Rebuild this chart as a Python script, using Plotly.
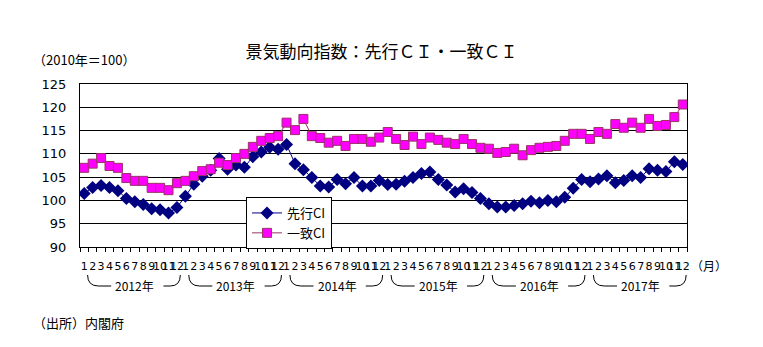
import plotly.graph_objects as go

# ---------------- data ----------------
years = ["2012年", "2013年", "2014年", "2015年", "2016年", "2017年"]
month_labels = ["1", "2", "3", "4", "5", "6", "7", "8", "9", "10", "11", "12"]

leading_ci = [
    # 2012
    101.5, 102.8, 103.2, 102.8, 102.1, 100.4, 99.7, 99.1, 98.2, 98.0, 97.3, 98.5,
    # 2013
    100.9, 103.5, 105.2, 106.5, 109.0, 106.7, 107.6, 107.1, 109.4, 110.4, 111.4, 111.0,
    # 2014
    112.0, 107.9, 106.6, 104.9, 103.1, 102.9, 104.5, 103.6, 104.9, 103.1, 103.1, 104.3,
    # 2015
    103.4, 103.5, 104.1, 104.9, 105.8, 106.1, 104.5, 103.3, 101.8, 102.5, 101.7, 100.4,
    # 2016
    99.3, 98.6, 98.6, 98.9, 99.3, 99.8, 99.5, 100.0, 99.7, 100.7, 102.6, 104.5,
    # 2017
    104.0, 104.6, 105.3, 103.8, 104.3, 105.3, 104.9, 106.8, 106.5, 106.2, 108.3, 107.7,
]

coincident_ci = [
    # 2012
    107.0, 107.9, 109.1, 107.4, 107.0, 104.8, 104.2, 104.2, 102.7, 102.7, 102.2, 103.7,
    # 2013
    104.2, 105.2, 106.3, 106.7, 108.1, 107.6, 109.1, 110.0, 111.5, 112.8, 113.4, 113.8,
    # 2014
    116.7, 115.1, 117.5, 113.8, 113.4, 112.4, 112.8, 111.7, 113.2, 113.2, 112.6, 113.5,
    # 2015
    114.7, 113.2, 111.9, 113.7, 112.1, 113.5, 113.0, 112.4, 112.1, 113.2, 112.1, 111.3,
    # 2016
    111.1, 110.2, 110.4, 111.1, 109.7, 110.8, 111.3, 111.5, 111.7, 112.8, 114.3, 114.3,
    # 2017
    113.2, 114.7, 114.3, 116.4, 115.6, 116.7, 115.6, 117.5, 116.0, 116.2, 117.9, 120.6,
]

y_ticks = [90, 95, 100, 105, 110, 115, 120, 125]

# ---------------- figure ----------------
n = len(leading_ci)
xs = list(range(n))
tick_text = month_labels * len(years)

JP = "Noto Sans CJK JP"
NUM = "DejaVu Sans"

W, H = 763, 347
ML, MR, MT, MB = 80, 76, 84, 100
ph = H - MT - MB
pw = W - ML - MR


def py(pix):
    return (H - MB - pix) / ph


def px(pix):
    return (pix - ML) / pw


fig = go.Figure()
fig.add_trace(go.Scatter(
    x=xs, y=leading_ci, name="先行CI", mode="lines+markers",
    line=dict(color="#000080", width=1),
    marker=dict(symbol="diamond", size=10, color="#000080",
                line=dict(color="#000080", width=0)),
))
fig.add_trace(go.Scatter(
    x=xs, y=coincident_ci, name="一致CI", mode="lines+markers",
    line=dict(color="#993366", width=1),
    marker=dict(symbol="square", size=9, color="#FF00FF",
                line=dict(color="#993366", width=1)),
))

# year labels and braces
shapes = []
annotations = []
y_top = py(275)
y_bot = py(286)
y_txt = py(285)
for k, yr in enumerate(years):
    start = 12 * k - 0.5
    end = 12 * k + 11.5
    center = 12 * k + 5.5 + 0.5
    xs0 = start + 0.9
    xe0 = end - 0.1
    tl = center - 2.8
    tr = center + 3.4
    path = (f"M {xs0},{y_top} Q {xs0},{y_bot} {xs0 + 1.3},{y_bot} L {tl},{y_bot} "
            f"M {tr},{y_bot} L {xe0 - 1.2},{y_bot} Q {xe0},{y_bot} {xe0},{y_top}")
    shapes.append(dict(type="path", path=path, xref="x", yref="paper",
                       line=dict(color="black", width=1)))
    annotations.append(dict(x=center, y=y_txt, xref="x", yref="paper",
                            text=yr, showarrow=False, xanchor="center", yanchor="middle",
                            font=dict(family=JP, size=12, color="black")))

annotations.append(dict(x=1, y=py(265), xref="paper", yref="paper", text="（月）",
                        showarrow=False, xanchor="left", yanchor="middle", xshift=2,
                        font=dict(family=JP, size=12, color="black")))
annotations.append(dict(x=px(31), y=py(60), xref="paper", yref="paper",
                        text="（2010年＝100）", showarrow=False, xanchor="left", yanchor="middle",
                        font=dict(family=JP, size=13, color="black")))
annotations.append(dict(x=px(31), y=py(322), xref="paper", yref="paper",
                        text="（出所）内閣府", showarrow=False, xanchor="left", yanchor="middle",
                        font=dict(family=JP, size=13, color="black")))

fig.update_layout(
    width=W, height=H,
    margin=dict(l=ML, r=MR, t=MT, b=MB),
    paper_bgcolor="white", plot_bgcolor="white",
    showlegend=True,
    legend=dict(x=px(246), y=py(197), xanchor="left", yanchor="top",
                bgcolor="white", bordercolor="black", borderwidth=1,
                font=dict(family=JP, size=13, color="black"),
                itemwidth=30, tracegroupgap=0, traceorder="normal"),
    title=dict(text="景気動向指数：先行ＣＩ・一致ＣＩ", x=0.5, xanchor="center",
               y=1 - 52 / H, yanchor="middle", yref="container",
               font=dict(family=JP, size=17, color="black")),
    shapes=shapes,
    annotations=annotations,
)

fig.update_xaxes(
    range=[-0.5, n - 0.5],
    tickmode="array", tickvals=xs, ticktext=tick_text, tickangle=0,
    ticks="", showgrid=False, zeroline=False,
    showline=True, linecolor="black", linewidth=1, mirror=True,
    tickfont=dict(family=NUM, size=11, color="black"),
    ticklabelstandoff=9,
    minor=dict(tickmode="linear", tick0=-0.5, dtick=1, ticks="outside",
               ticklen=4, tickcolor="black", tickwidth=1, showgrid=False),
)
fig.update_yaxes(
    range=[90, 125], tickmode="array", tickvals=y_ticks,
    showgrid=True, gridcolor="black", gridwidth=1, zeroline=False,
    showline=True, linecolor="black", linewidth=1, mirror=True,
    ticks="", ticklabelstandoff=10,
    tickfont=dict(family=NUM, size=13, color="black"),
)

fig.write_html("out.html")
